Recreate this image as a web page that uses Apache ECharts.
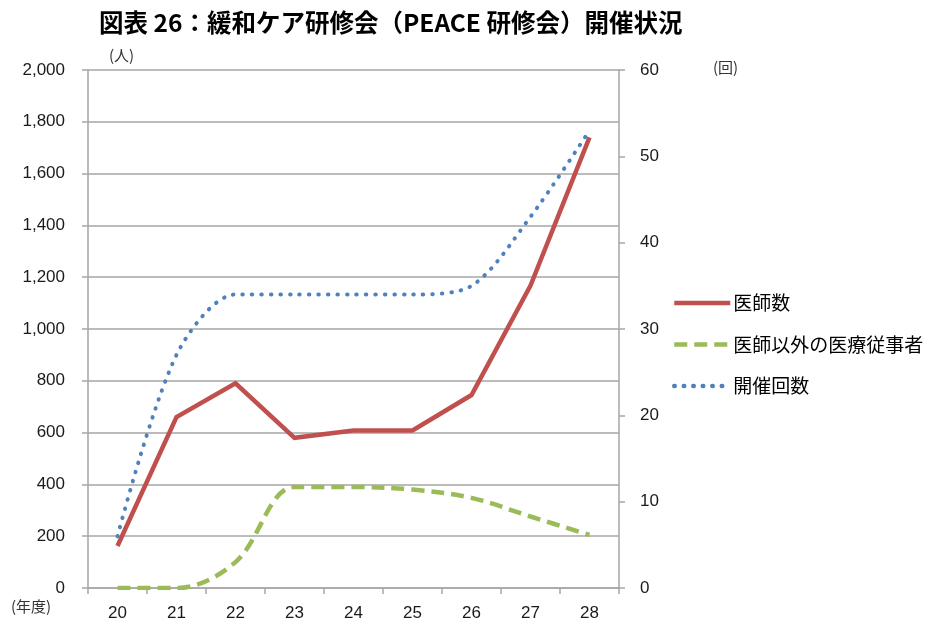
<!DOCTYPE html>
<html>
<head>
<meta charset="utf-8">
<script src="https://cdn.jsdelivr.net/npm/echarts@6/dist/echarts.min.js"></script>
<style>html,body{margin:0;padding:0;background:#fff}#c{width:933px;height:628px}</style>
</head>
<body>
<div id="c"></div>
<script>
var titleText = '図表 26：緩和ケア研修会（PEACE 研修会）開催状況';
var categories = ['20','21','22','23','24','25','26','27','28'];
var seriesNames = ['医師数','医師以外の医療従事者','開催回数'];
var doctors = [162, 660, 790, 580, 608, 608, 745, 1168, 1740];
var others = [0, 0, 100, 390, 390, 380, 348, 276, 205];
var sessions = [6, 27, 34, 34, 34, 34, 35, 43, 53];
var leftTicks = {min: 0, max: 2000, interval: 200};
var rightTicks = {min: 0, max: 60, interval: 10};
var unitLeft = '(人)', unitRight = '(回)', unitX = '(年度)';

var chart = echarts.init(document.getElementById('c'), null, {renderer: 'canvas'});
var gray = '#a6a6a6';
var labelFont = {color: '#1a1a1a', fontSize: 17, fontFamily: 'Liberation Sans, Arial, sans-serif'};
var cjk = 'Noto Sans CJK JP, sans-serif';
chart.setOption({
  animation: false,
  backgroundColor: '#fff',
  title: {
    text: titleText, left: 94, top: 5,
    textStyle: {fontSize: 24.5, fontWeight: 'bold', color: '#000', fontFamily: cjk}
  },
  legend: {
    orient: 'vertical', left: 672, top: 293, padding: 0,
    itemWidth: 56, itemHeight: 20, itemGap: 21.5,
    itemStyle: {opacity: 0},
    lineStyle: {width: 4.5},
    textStyle: {fontSize: 19, color: '#000', fontFamily: cjk, lineHeight: 20, padding: [0, 0, 0, -2]},
    data: seriesNames
  },
  grid: {left: 88, right: 314, top: 70, bottom: 40, containLabel: false},
  xAxis: {
    type: 'category', data: categories, boundaryGap: true,
    axisLine: {lineStyle: {color: gray, width: 1.5}},
    axisTick: {show: true, length: 6, lineStyle: {color: gray, width: 1.5}},
    axisLabel: Object.assign({margin: 17}, labelFont),
    splitLine: {show: false}
  },
  yAxis: [{
    type: 'value', min: leftTicks.min, max: leftTicks.max, interval: leftTicks.interval,
    axisLine: {show: true, lineStyle: {color: gray, width: 1.5}},
    axisTick: {show: true, length: 6, lineStyle: {color: gray, width: 1.5}},
    axisLabel: Object.assign({margin: 23, formatter: function (v) { return v.toLocaleString('en-US'); }}, labelFont),
    splitLine: {show: true, lineStyle: {color: gray, width: 1.5}}
  }, {
    type: 'value', position: 'right', min: rightTicks.min, max: rightTicks.max, interval: rightTicks.interval,
    axisLine: {show: true, lineStyle: {color: gray, width: 1.5}},
    axisTick: {show: true, length: 6, lineStyle: {color: gray, width: 1.5}},
    axisLabel: Object.assign({margin: 21}, labelFont),
    splitLine: {show: false}
  }],
  graphic: [
    {type: 'text', left: 109, top: 48, style: {text: unitLeft, fontSize: 15, fill: '#333', fontFamily: cjk}},
    {type: 'text', left: 713, top: 60, style: {text: unitRight, fontSize: 15, fill: '#333', fontFamily: cjk}},
    {type: 'text', left: 11, top: 599, style: {text: unitX, fontSize: 15, fill: '#333', fontFamily: cjk}}
  ],
  series: [{
    name: seriesNames[0], type: 'line', data: doctors, yAxisIndex: 0,
    symbol: 'none', smooth: false,
    lineStyle: {color: '#c0504d', width: 4.5, cap: 'butt', join: 'miter'},
    itemStyle: {color: '#c0504d'}, z: 3
  }, {
    name: seriesNames[1], type: 'line', data: others, yAxisIndex: 0,
    symbol: 'none', smooth: 0.35,
    lineStyle: {color: '#9bbb59', width: 4.5, type: [13, 7]},
    itemStyle: {color: '#9bbb59'}, z: 2
  }, {
    name: seriesNames[2], type: 'line', data: sessions, yAxisIndex: 1,
    symbol: 'none', smooth: 0.3,
    lineStyle: {color: '#4f81bd', width: 4, type: [0.5, 9], cap: 'round'},
    itemStyle: {color: '#4f81bd'}, z: 4
  }]
});
</script>
</body>
</html>
